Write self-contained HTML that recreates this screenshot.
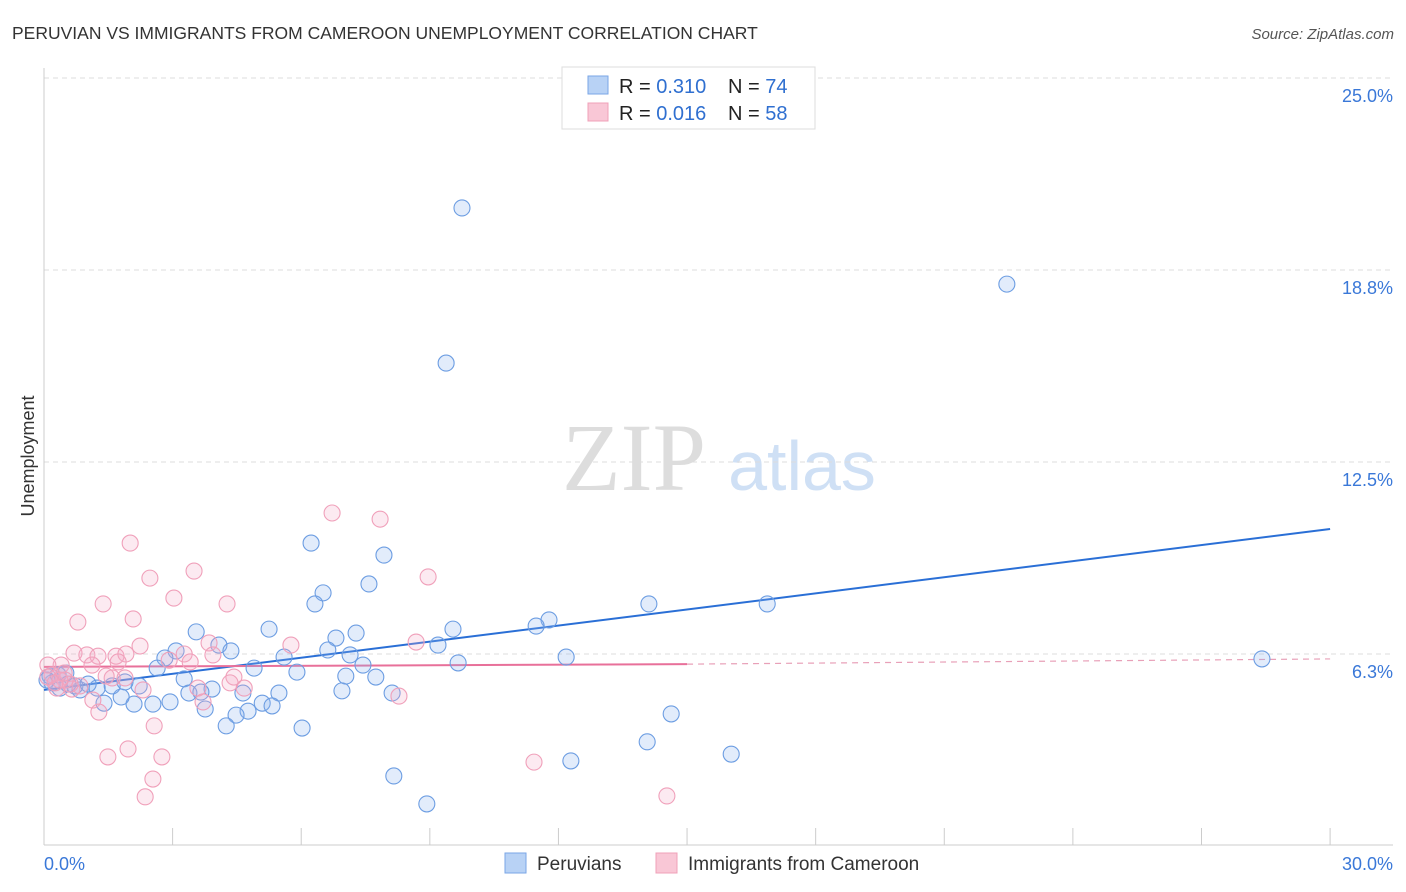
<!DOCTYPE html>
<html><head><meta charset="utf-8"><style>
body{margin:0;background:#fff;font-family:"Liberation Sans",sans-serif;}
svg{display:block}
</style></head><body>
<svg id="chart" width="1406" height="892" xmlns="http://www.w3.org/2000/svg">
<text x="12" y="39" font-size="17.5" fill="#333">PERUVIAN VS IMMIGRANTS FROM CAMEROON UNEMPLOYMENT CORRELATION CHART</text>
<text x="1394" y="39" font-size="15" fill="#555" text-anchor="end" font-style="italic">Source: ZipAtlas.com</text>
<g>
<text x="634" y="490" font-size="96" font-family="Liberation Serif,serif" fill="#ddd" text-anchor="middle">ZIP</text>
<text x="802" y="490" font-size="70" fill="#cfe0f5" text-anchor="middle">atlas</text>
</g>
<g id="grid"></g>
<g id="axes"></g>
<text transform="translate(34,456) rotate(-90)" font-size="18" fill="#333" text-anchor="middle">Unemployment</text>
<g id="lines"></g>
<g id="points"></g>
<g>
<rect x="562" y="67" width="253" height="62" fill="#fff" stroke="#ddd"/>
<rect x="588" y="76" width="20" height="18" fill="#b8d2f5" stroke="#7aa6e6"/>
<rect x="588" y="103" width="20" height="18" fill="#f9c7d6" stroke="#f0a0b8"/>
<text x="619" y="93" font-size="20" fill="#222">R = <tspan fill="#2f6fd0">0.310</tspan></text>
<text x="728" y="93" font-size="20" fill="#222">N = <tspan fill="#2f6fd0">74</tspan></text>
<text x="619" y="120" font-size="20" fill="#222">R = <tspan fill="#2f6fd0">0.016</tspan></text>
<text x="728" y="120" font-size="20" fill="#222">N = <tspan fill="#2f6fd0">58</tspan></text>
</g>
<g>
<rect x="505" y="853" width="21" height="20" fill="#b8d2f5" stroke="#7aa6e6"/>
<text x="537" y="870" font-size="19" fill="#333">Peruvians</text>
<rect x="656" y="853" width="21" height="20" fill="#f9c7d6" stroke="#f0a0b8"/>
<text x="688" y="870" font-size="19" fill="#333">Immigrants from Cameroon</text>
</g>
</svg>
<script>
const yTicks=[25,18.8,12.5,6.3];
const yTickVals=[25,18.75,12.5,6.25];
const xTickLabels=["0.0%","30.0%"];
const blueX=[9.75,22.46,9.38,6.23,7.93,7.58,6.51,6.32,11.78,11.48,14.11,16.87,5.25,3.55,7.28,6.81,9.54,9.19,4.08,4.36,3.08,2.82,6.62,7.14,5.60,4.90,2.64,7.44,9.66,12.18,28.41,3.27,5.90,7.74,7.04,3.92,3.38,3.66,4.64,5.48,6.95,8.12,2.94,2.54,2.10,1.40,1.80,2.22,1.59,1.89,1.24,0.84,0.72,0.37,0.19,0.14,0.33,0.51,1.03,3.76,4.76,4.48,5.09,5.32,14.63,4.25,6.02,14.07,16.03,12.29,8.16,8.93,0.07,0.56];
const blueY=[20.77,18.29,15.72,9.86,9.47,8.53,8.24,7.88,7.36,7.16,7.88,7.88,7.06,6.97,6.93,6.77,7.06,6.54,6.54,6.35,6.35,6.12,6.38,6.22,6.15,5.79,5.79,5.89,5.96,6.15,6.09,5.44,5.66,5.50,5.53,5.11,4.98,5.01,4.98,4.98,5.05,4.98,4.69,4.62,4.62,4.65,4.85,5.21,5.21,5.34,5.14,5.08,5.21,5.14,5.31,5.53,5.57,5.63,5.27,4.46,4.39,4.26,4.65,4.56,4.30,3.91,3.84,3.39,2.99,2.77,2.28,1.37,5.40,5.27];
const pinkX=[6.72,7.84,2.01,3.50,2.47,8.96,3.03,1.38,4.27,2.08,0.79,2.24,3.85,5.76,8.68,3.27,3.94,0.70,1.00,1.26,1.68,1.91,2.92,3.41,1.73,1.12,0.40,0.09,0.19,1.59,1.89,4.43,4.34,4.67,0.49,0.30,0.65,2.31,3.59,1.14,1.28,8.28,3.71,2.57,1.96,1.49,2.75,2.54,2.36,11.43,14.53,0.09,0.26,0.84,0.61,0.37,0.47,1.45];
const pinkY=[10.84,10.64,9.86,8.95,8.72,8.76,8.07,7.88,7.88,7.39,7.29,6.51,6.61,6.54,6.64,6.25,6.22,6.28,6.22,6.18,6.18,6.25,6.05,5.99,5.99,5.89,5.89,5.89,5.57,5.47,5.47,5.50,5.31,5.14,5.40,5.14,5.11,5.08,5.14,4.75,4.36,4.88,4.69,3.91,3.16,2.90,2.90,2.18,1.60,2.73,1.63,5.50,5.31,5.21,5.27,5.40,5.63,5.53];
const blueTrend=[[0,5.08],[30,10.32]];
const pinkTrend=[[0,5.83],[15,5.92],[30,6.09]];
const NS="http://www.w3.org/2000/svg";
const X=v=>44+v*42.87, Y=v=>846-v*30.72;
function mk(tag,attrs,parent){const e=document.createElementNS(NS,tag);for(const k in attrs)e.setAttribute(k,attrs[k]);parent.appendChild(e);return e;}
const grid=document.getElementById('grid'),axes=document.getElementById('axes'),lines=document.getElementById('lines'),pts=document.getElementById('points');
yTickVals.forEach((v,i)=>{
 const l=mk('line',{x1:44,x2:1393,y1:Y(v),y2:Y(v),stroke:'#ddd','stroke-dasharray':'5,4'},grid);
 
 
 const t=mk('text',{x:1393,y:Y(v)+24,'font-size':18,fill:'#3a78d8','text-anchor':'end'},axes);
 t.textContent=yTicks[i].toFixed(1)+'%';
 
 
});
const ax=mk('line',{x1:44,x2:44,y1:68,y2:845,stroke:'#ccc'},axes);


const bx=mk('line',{x1:44,x2:1393,y1:845,y2:845,stroke:'#ccc'},axes);


for(let i=0;i<=10;i++){
 const t=mk('line',{x1:X(i*3),x2:X(i*3),y1:828,y2:845,stroke:'#ccc'},axes);
 
 
}
[[0,'start',44],[30,'end',1393]].forEach((a,i)=>{
 const t=mk('text',{x:a[2],y:870,'font-size':18,fill:'#3a78d8','text-anchor':a[1]},axes);
 t.textContent=xTickLabels[i];
 
 
});
function dots(xs,ys,fill,stroke,name){
 xs.forEach((x,i)=>{
  const c=mk('circle',{cx:X(x),cy:Y(ys[i]),r:8,fill:fill,stroke:stroke,'stroke-width':1.1},pts);
  
  
 });
}
dots(blueX,blueY,'rgba(140,180,240,0.25)','#6c9de2','peruvian-point');
dots(pinkX,pinkY,'rgba(245,170,198,0.25)','#f0a0ba','cameroon-point');
const bl=mk('line',{x1:X(blueTrend[0][0]),y1:Y(blueTrend[0][1]),x2:X(blueTrend[1][0]),y2:Y(blueTrend[1][1]),stroke:'#2a6fd6','stroke-width':2},lines);


const pl=mk('line',{x1:X(pinkTrend[0][0]),y1:Y(pinkTrend[0][1]),x2:X(pinkTrend[1][0]),y2:Y(pinkTrend[1][1]),stroke:'#e8709a','stroke-width':2},lines);


const pd=mk('line',{x1:X(pinkTrend[1][0]),y1:Y(pinkTrend[1][1]),x2:X(pinkTrend[2][0]),y2:Y(pinkTrend[2][1]),stroke:'#e8a0b8','stroke-width':1.2,'stroke-dasharray':'6,5'},lines);


</script>
</body></html>
